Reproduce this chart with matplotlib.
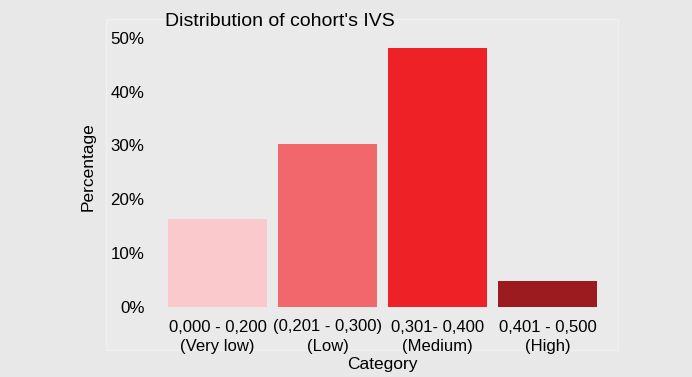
import matplotlib
matplotlib.use("Agg")
from matplotlib import pyplot as plt
from matplotlib.patches import Rectangle
from matplotlib.ticker import PercentFormatter

categories = ["0,000 - 0,200\n(Very low)", "(0,201 - 0,300)\n(Low)",
              "0,301- 0,400\n(Medium)", "0,401 - 0,500\n(High)"]
percentages = [0.164, 0.303, 0.481, 0.049]
colors = ["#f9c9cb", "#f2676b", "#ee2226", "#9b1b1f"]

plt.rcParams["font.family"] = ["Liberation Sans", "DejaVu Sans"]

W, H = 692, 377
fig = plt.figure(figsize=(W / 100, H / 100), dpi=100, facecolor="#e8e8e8")

# faint inner panel
fig.patches.append(Rectangle((106 / W, 1 - 350 / H), (618 - 106) / W, (350 - 19) / H,
                             transform=fig.transFigure, facecolor="#eaeaea",
                             edgecolor="#f0f0f0", linewidth=1, zorder=-5))

ax = fig.add_axes([157 / W, 1 - 307 / H, (608 - 157) / W, (307 - 27) / H])
ax.set_facecolor("none")

x = range(len(categories))
ax.bar(x, percentages, width=0.9, color=colors)

ax.set_xlim(-0.55, 3.55)
ax.set_ylim(0, 0.52)
ax.set_yticks([0, 0.1, 0.2, 0.3, 0.4, 0.5])
ax.yaxis.set_major_formatter(PercentFormatter(1.0, decimals=0))
ax.set_xticks(list(x))
ax.set_xticklabels(categories, fontsize=12, linespacing=1.4)
ax.tick_params(axis="y", labelsize=12.2, length=0, pad=9)
ax.tick_params(axis="x", length=0, pad=9)
for s in ax.spines.values():
    s.set_visible(False)

ax.set_xlabel("Category", fontsize=12.5, labelpad=2)
ax.set_ylabel("Percentage", fontsize=12.5, labelpad=11)

fig.text(165 / W, 1 - 21 / H, "Distribution of cohort's IVS", fontsize=14,
         va="center", ha="left")

fig.savefig("out.png", dpi=100, facecolor=fig.get_facecolor())
